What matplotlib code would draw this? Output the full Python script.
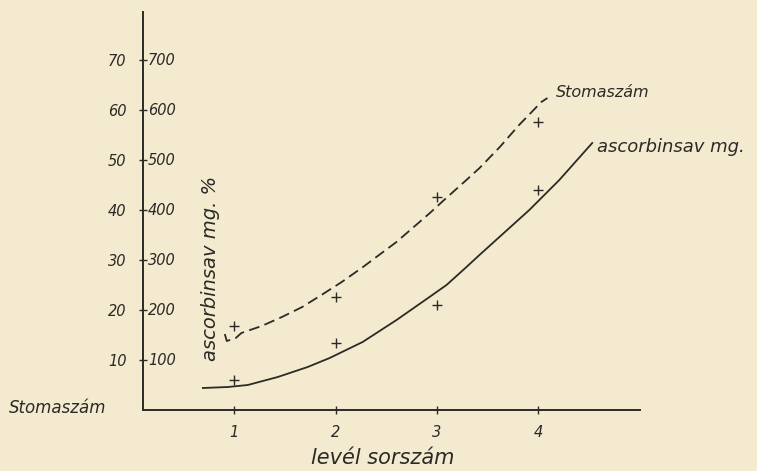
import matplotlib
matplotlib.use("Agg")
import matplotlib.pyplot as plt
import numpy as np

# measured points (crosses)
levels = [1, 2, 3, 4]
stoma_pts = [16.8, 22.6, 42.6, 57.6]
ascorb_pts = [60, 134, 210, 440]          # mg %, drawn on the 10x scale

# hand-drawn curves
stoma_cx = [0.906, 0.926, 1.015, 1.07, 1.27, 1.47, 1.67, 1.86, 2.06,
            2.27, 2.60, 2.93, 3.07, 3.29, 3.42, 3.62, 3.81, 4.03, 4.09]
stoma_cy = [15.2, 13.8, 14.4, 15.4, 16.8, 18.6, 20.6, 23.0, 25.6,
            28.6, 33.6, 39.4, 42.0, 46.0, 48.4, 52.6, 57.0, 61.6, 62.4]
ascorb_cx = [0.69, 0.936, 1.133, 1.429, 1.724, 1.941, 2.266, 2.601, 2.926, 3.094,
             3.291, 3.419, 3.911, 4.207, 4.532]
ascorb_cy = [44, 46, 50, 66, 86, 104, 136, 180, 226, 250, 286, 310, 400, 460, 534]

yticks = [10, 20, 30, 40, 50, 60, 70]
yticks_inner = ["100", "200", "300", "400", "500", "600", "700"]

bg = "#f4ead0"
ink = "#2b2a26"
plt.rcParams["font.family"] = ["DejaVu Sans"]
plt.rcParams["font.style"] = "italic"

fig = plt.figure(figsize=(7.57, 4.71), dpi=100, facecolor=bg)
ax = fig.add_axes([0.189, 0.1295, 0.656, 0.845])
ax.set_facecolor(bg)

ax.plot(stoma_cx, stoma_cy, color=ink, lw=1.3, ls=(0, (6, 3)))
ax.plot(ascorb_cx, np.array(ascorb_cy) / 10, color=ink, lw=1.3)
ax.plot(levels, stoma_pts, "+", color=ink, ms=7, mew=1.0)
ax.plot(levels, np.array(ascorb_pts) / 10, "+", color=ink, ms=7, mew=1.0)

ax.set_xlim(0.1, 5.0)
ax.set_ylim(0, 79.6)
for s in ["top", "right"]:
    ax.spines[s].set_visible(False)
for s in ["left", "bottom"]:
    ax.spines[s].set_color(ink)
    ax.spines[s].set_linewidth(1.4)

ax.set_xticks(levels)
ax.set_xticklabels([str(v) for v in levels], fontsize=10.5, color=ink)
ax.set_yticks(yticks)
ax.set_yticklabels([str(v) for v in yticks], fontsize=10.5, color=ink)
ax.tick_params(direction="inout", length=6, width=1, color=ink)
ax.tick_params(axis="x", pad=8)
ax.tick_params(axis="y", pad=9)

for v, lab in zip(yticks, yticks_inner):
    ax.text(0.15, v, lab, fontsize=10.5, color=ink, va="center", ha="left")

ax.text(0.77, 28.4, "ascorbinsav mg. %", rotation=90, fontsize=14, color=ink,
        ha="center", va="center")
ax.text(4.17, 63.5, "Stomaszám", fontsize=11.5, color=ink, ha="left", va="center")
ax.text(4.58, 52.6, "ascorbinsav mg.", fontsize=13, color=ink, ha="left", va="center")

fig.text(0.012, 0.133, "Stomaszám", fontsize=12, color=ink, ha="left", va="center")
fig.text(0.505, 0.028, "levél sorszám", fontsize=15, color=ink, ha="center", va="center")

fig.savefig("out.png", dpi=100, facecolor=bg)
